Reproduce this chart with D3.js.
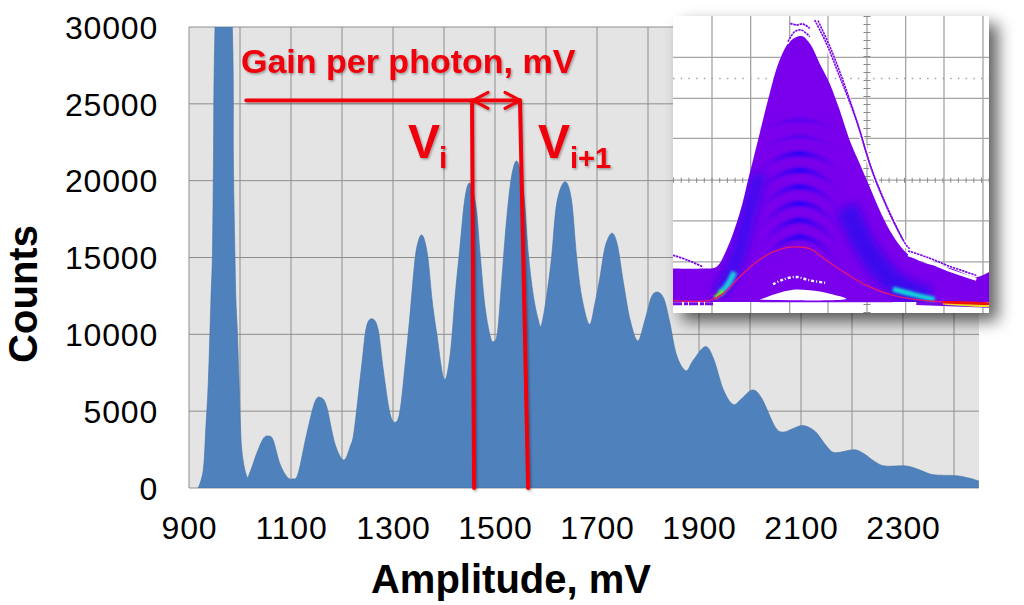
<!DOCTYPE html>
<html><head><meta charset="utf-8">
<script src="https://cdn.jsdelivr.net/npm/d3@7"></script>
<style>html,body{margin:0;background:#fff}svg{display:block}text{font-family:"Liberation Sans",Arial,sans-serif}</style>
</head><body><svg id="c" width="1024" height="605"></svg>
<script>
// ---------- main histogram ----------
const amplitude=[918,928,933,938,943,946,948,951,967,985,987,990,992,995,998,1003,1013,1020,1033,1046,1056,1065,1078,1092,1103,1114,1131,1147,1159,1170,1186,1203,1216,1224,1239,1248,1260,1271,1281,1294,1305,1314,1324,1333,1343,1350,1356,1362,1369,1377,1386,1400,1412,1422,1431,1441,1451,1463,1471,1480,1490,1497,1505,1513,1523,1533,1544,1556,1565,1575,1585,1591,1601,1611,1621,1637,1650,1660,1670,1685,1696,1706,1716,1729,1740,1752,1765,1780,1794,1807,1820,1832,1843,1856,1874,1889,1912,1928,1948,1967,1984,2005,2023,2049,2065,2085,2105,2128,2151,2167,2203,2222,2245,2265,2307,2333,2359,2405,2431,2448];
const counts=[0,1170,3900,7030,12240,15300,21350,30000,48000,30000,21350,15300,12240,10080,7030,2690,780,1060,2270,3230,3380,3120,1600,740,590,950,3550,5620,5880,5290,2900,1820,2690,3770,8110,10500,11000,10280,7680,4860,4280,5080,8110,11150,14840,16100,16470,16100,14840,12130,10000,7090,8660,12560,15600,18850,19830,18220,15160,11910,9960,9520,10170,13430,17550,20370,21240,19280,15380,12560,10930,10610,12450,15050,18530,19930,18740,15050,12450,10650,12020,13750,15700,16580,15810,13320,10930,9570,10930,12450,12740,12240,10730,8650,7630,8330,9200,8460,6380,5440,5830,6380,5830,3990,3640,3880,4060,3670,2690,2300,2490,2260,1710,1430,1430,1170,870,800,630,460];
const xTickLabels=[900,1100,1300,1500,1700,1900,2100,2300];
const xGrid=[900,1000,1100,1200,1300,1400,1500,1600,1700,1800,1900,2000,2100,2200,2300,2400];
const yTickLabels=[0,5000,10000,15000,20000,25000,30000];
const xAxisTitle="Amplitude, mV", yAxisTitle="Counts", gainLabel="Gain per photon, mV";
// annotation lines: [mV at top, mV at bottom]
const markerLeft=[1455,1459], markerRight=[1549,1565], gainBarStart=1012, gainLevel=25000;

// ---------- oscilloscope inset (positions in inset picture units) ----------
const hullUpper=[[40,805],[130,805],[170,800],[200,750],[240,640],[270,520],[300,400],[330,280],[360,180],[390,125],[425,108],[450,130],[480,190],[510,250],[540,330],[570,420],[600,490],[630,560],[660,630],[690,690],[720,735],[745,762],[800,790],[870,803],[950,830],[988,815]];
const hullLower=[[988,905],[560,905],[40,905]];
const redPulse=[[40,900],[150,900],[190,880],[240,830],[290,785],[340,755],[380,742],[415,740],[450,745],[500,780],[560,820],[620,855],[700,885],[770,898],[850,905],[988,910]];
const pulseShape=[[300,1],[330,.62],[360,.28],[390,.07],[420,0],[450,.07],[480,.28],[510,.62],[540,1]];
const bandTops=[360,410,460,510,560,610,660,710];
const outerTraceA=[[465,60],[500,130],[540,230],[590,360],[630,490],[680,615],[740,735],[750,745]];
const outerTraceB=[[475,62],[515,150],[560,270],[600,390],[640,520],[690,640],[730,720]];
const outerTop=[[385,125],[405,95],[425,90],[450,110]];
const outerTop2=[[392,70],[410,75],[430,72],[450,85]];
const leftOutlier=[[40,765],[85,780],[130,800]];
const rightOutlier=[[745,752],[800,770],[870,798],[950,825]];
const whiteHole=[[300,898],[350,880],[400,868],[450,870],[510,880],[560,895],[500,900],[400,900]];
const whiteSpecks=[[340,852],[370,838],[410,830],[450,840],[500,848]];
const leftFlank=[[175,880],[210,825],[240,750],[270,630],[300,520]];
const rightFlank=[[560,620],[600,710],[650,790],[720,858],[810,893]];
const cyanLeft=[[180,880],[203,855],[224,815]];
const cyanRight=[[700,866],[760,882],[825,897]];
const greenLeft=[[165,893],[190,872]];
const yellowRight=[[850,908],[900,912],[988,917]];
const hGrid=[172,295,415,540,662,785], vGrid=[157,273,390,505,622,738,853,970];
const dotRowY=235, tickRowY=540, tickColX=622;

const svg=d3.select("#c");
const defs=svg.append("defs");
const blur=(id,s)=>defs.append("filter").attr("id",id).attr("x","-30%").attr("y","-30%").attr("width","160%").attr("height","160%").append("feGaussianBlur").attr("stdDeviation",s);
blur("b1",.8);blur("b2",1.5);blur("b3",4.5);blur("soft",.4);
const sh=defs.append("filter").attr("id","shadow").attr("x","-10%").attr("y","-10%").attr("width","130%").attr("height","130%");
sh.append("feDropShadow").attr("dx",9).attr("dy",8).attr("stdDeviation",8).attr("flood-color","#000").attr("flood-opacity",.62);
const ts=defs.append("filter").attr("id","tshadow").attr("x","-10%").attr("y","-20%").attr("width","120%").attr("height","150%");
ts.append("feDropShadow").attr("dx",1.2).attr("dy",1.4).attr("stdDeviation",1).attr("flood-color","#000").attr("flood-opacity",.35);
defs.append("clipPath").attr("id","plotClip").append("rect").attr("x",189).attr("y",27).attr("width",790).attr("height",461);
defs.append("clipPath").attr("id","insetClip").append("rect").attr("x",673).attr("y",16).attr("width",316).attr("height",297);

const x=d3.scaleLinear().domain([900,2449]).range([189,979]);
const y=d3.scaleLinear().domain([0,30000]).range([488,27]);

svg.append("rect").attr("x",x(900)).attr("y",y(30000)).attr("width",x(2449)-x(900)).attr("height",y(0)-y(30000)).attr("fill","#e4e4e4");
svg.append("g").selectAll("line").data(xGrid).join("line").attr("x1",d=>x(d)).attr("x2",d=>x(d)).attr("y1",y(30000)).attr("y2",y(0)).attr("stroke","#8e8e8e").attr("stroke-width",1);
svg.append("g").selectAll("line").data(yTickLabels).join("line").attr("x1",x(900)).attr("x2",x(2449)).attr("y1",d=>y(d)).attr("y2",d=>y(d)).attr("stroke","#8e8e8e").attr("stroke-width",1);

const area=d3.area().x(d=>x(d[0])).y0(y(0)).y1(d=>y(d[1])).curve(d3.curveCatmullRom.alpha(0));
const pts=d3.zip(amplitude,counts);
svg.append("path").attr("clip-path","url(#plotClip)").datum(pts).attr("d",area).attr("fill","#4f81bd").attr("stroke","#44729f").attr("stroke-width",.6);

const yAxis=d3.axisLeft(y).tickValues(yTickLabels).tickSize(0).tickPadding(0).tickFormat(d3.format("d"));
const gy=svg.append("g").attr("transform","translate(158,0)").call(yAxis);
gy.select(".domain").remove();
gy.selectAll("text").attr("font-size",32).attr("letter-spacing",.8).attr("fill","#000").attr("dy","0.35em");
const xAxis=d3.axisBottom(x).tickValues(xTickLabels).tickSize(0).tickPadding(0).tickFormat(d3.format("d"));
const gx=svg.append("g").attr("transform","translate(0,528)").call(xAxis);
gx.select(".domain").remove();
gx.selectAll("text").attr("font-size",32).attr("letter-spacing",.8).attr("fill","#000").attr("y",0).attr("dy","0.35em");

svg.append("text").attr("x",511).attr("y",593).attr("text-anchor","middle").attr("font-size",40).attr("font-weight","bold").text(xAxisTitle);
svg.append("text").attr("transform","translate(37,294) rotate(-90)").attr("text-anchor","middle").attr("font-size",40).attr("font-weight","bold").text(yAxisTitle);

// ---------- inset ----------
const ix=d3.scaleLinear().domain([40,988]).range([673,989]);
const iy=d3.scaleLinear().domain([48,938]).range([16,313]);
const iline=d3.line().x(d=>ix(d[0])).y(d=>iy(d[1])).curve(d3.curveCatmullRom);
const ilineStraight=d3.line().x(d=>ix(d[0])).y(d=>iy(d[1]));
const hullPath=iline(hullUpper)+"L"+hullLower.map(d=>ix(d[0])+","+iy(d[1])).join("L")+"Z";
defs.append("clipPath").attr("id","hullClip").append("path").attr("d",hullPath);
const bandGrad=defs.append("linearGradient").attr("id","band").attr("gradientUnits","userSpaceOnUse").attr("x1",ix(270)).attr("x2",ix(570)).attr("y1",0).attr("y2",0);
[[0,"#7a06ec",0],[.3,"#4a06f0",.75],[.5,"#2606f8",1],[.7,"#4a06f0",.75],[1,"#7a06ec",0]].forEach(s=>bandGrad.append("stop").attr("offset",s[0]).attr("stop-color",s[1]).attr("stop-opacity",s[2]));
svg.append("rect").attr("x",673).attr("y",16).attr("width",316).attr("height",297).attr("fill","#fff").attr("filter","url(#shadow)");
const ins=svg.append("g").attr("clip-path","url(#insetClip)");
const grey="#a4a4a4";
ins.selectAll(".v").data(vGrid).join("line").attr("class","v").attr("x1",d=>ix(d)).attr("x2",d=>ix(d)).attr("y1",16).attr("y2",313).attr("stroke",grey).attr("stroke-width",1.3);
ins.selectAll(".h").data(hGrid).join("line").attr("class","h").attr("y1",d=>iy(d)).attr("y2",d=>iy(d)).attr("x1",673).attr("x2",989).attr("stroke",grey).attr("stroke-width",1.3);
ins.append("line").attr("x1",673).attr("x2",989).attr("y1",iy(dotRowY)).attr("y2",iy(dotRowY)).attr("stroke",grey).attr("stroke-width",1.5).attr("stroke-dasharray","1.5 6.2");
ins.append("line").attr("x1",673).attr("x2",989).attr("y1",iy(tickRowY)).attr("y2",iy(tickRowY)).attr("stroke","#888").attr("stroke-width",5).attr("stroke-dasharray","1 6.7");
ins.append("line").attr("x1",ix(tickColX)).attr("x2",ix(tickColX)).attr("y1",16).attr("y2",313).attr("stroke","#888").attr("stroke-width",7).attr("stroke-dasharray","1 7");

const purple="#7a06ec";
const outerStyle=(data,w)=>ins.append("path").attr("d",iline(data)).attr("fill","none").attr("stroke",purple).attr("stroke-width",w).attr("stroke-dasharray","2.4 .8");
// hull
ins.append("path").attr("d",hullPath).attr("fill",purple).attr("filter","url(#soft)");
// noisy floor at both ends of the trace
ins.append("line").attr("x1",ix(40)).attr("x2",ix(160)).attr("y1",iy(910)).attr("y2",iy(910)).attr("stroke",purple).attr("stroke-width",3).attr("stroke-dasharray","9 2 4 1");
ins.append("line").attr("x1",ix(770)).attr("x2",ix(988)).attr("y1",iy(908)).attr("y2",iy(916)).attr("stroke",purple).attr("stroke-width",4);
// flanks, kept inside the hull
const flankG=ins.append("g").attr("clip-path","url(#hullClip)");
flankG.append("path").attr("d",iline(leftFlank)).attr("fill","none").attr("stroke","#2a10f0").attr("stroke-width",15).attr("filter","url(#b3)").attr("opacity",.7);
flankG.append("path").attr("d",iline(rightFlank)).attr("fill","none").attr("stroke","#2410ee").attr("stroke-width",22).attr("filter","url(#b3)").attr("opacity",.7);
// persistence bands
const bandG=ins.append("g").attr("filter","url(#b2)");
bandTops.forEach((t,i)=>{
  const k=28+i*8, pts=pulseShape.map(d=>[420+(d[0]-420)*(1+i*.12),t+d[1]*k*(1+i*.3)]);
  bandG.append("path").attr("d",iline(pts)).attr("fill","none").attr("stroke","url(#band)").attr("stroke-width",i<2?3:5).attr("opacity",i<2?.6:1);
});
ins.append("path").attr("d",iline(cyanLeft)).attr("fill","none").attr("stroke","#12d0e0").attr("stroke-width",6).attr("filter","url(#b2)");
ins.append("path").attr("d",iline(cyanRight)).attr("fill","none").attr("stroke","#10e0d8").attr("stroke-width",5).attr("filter","url(#b2)");
ins.append("path").attr("d",ilineStraight(greenLeft)).attr("stroke","#70e820").attr("stroke-width",4).attr("filter","url(#b1)");
// white holes and specks
ins.append("path").attr("d",iline(whiteHole)+"Z").attr("fill","#fff");
ins.append("path").attr("d",iline(whiteSpecks)).attr("fill","none").attr("stroke","#fff").attr("stroke-width",2.4).attr("stroke-dasharray","3 2 1 2");
ins.append("line").attr("x1",ix(300)).attr("x2",ix(700)).attr("y1",iy(904)).attr("y2",iy(904)).attr("stroke",purple).attr("stroke-width",1.2);
// outer traces with white gap on the falling edge
ins.append("path").attr("d",iline(outerTraceA)).attr("fill","none").attr("stroke","#fff").attr("stroke-width",5);
outerStyle(outerTraceA,1.6);outerStyle(outerTraceB,1.6);
ins.append("path").attr("d",iline(outerTop.map(d=>[d[0],d[1]+6]))).attr("fill","none").attr("stroke","#fff").attr("stroke-width",1.5);
outerStyle(outerTop,1.6);outerStyle(outerTop2,1.8);
ins.append("path").attr("d",iline(rightOutlier.map(d=>[d[0],d[1]+12]))).attr("fill","none").attr("stroke","#fff").attr("stroke-width",3);
outerStyle(rightOutlier,1.6);outerStyle(leftOutlier,1.8);
// average pulse
ins.append("path").attr("d",iline(redPulse)).attr("fill","none").attr("stroke","#e8186e").attr("stroke-width",1.3);
ins.append("path").attr("d",ilineStraight(redPulse.slice(0,2))).attr("stroke","#f01010").attr("stroke-width",3).attr("filter","url(#soft)");
ins.append("path").attr("d",iline(yellowRight)).attr("fill","none").attr("stroke","#e8e020").attr("stroke-width",3).attr("filter","url(#soft)");
ins.append("path").attr("d",ilineStraight(redPulse.slice(-2))).attr("stroke","#f01010").attr("stroke-width",3).attr("filter","url(#soft)");

// ---------- annotations ----------
const ann=svg.append("g").attr("filter","url(#tshadow)");
const red="#f00008";
const seg=(a,b,c,d,w)=>ann.append("line").attr("x1",a).attr("y1",b).attr("x2",c).attr("y2",d).attr("stroke",red).attr("stroke-width",w).attr("stroke-linecap","round");
const yG=y(gainLevel)-3.5;
seg(x(gainBarStart),yG,x(markerRight[0]),yG,3.6);
seg(x(markerLeft[0]),yG,x(markerLeft[1]),y(0),4);
seg(x(markerRight[0]),yG,x(markerRight[1]),y(0),4);
const xa=x(markerLeft[0])+1, xb=x(markerRight[0]);
seg(xa,yG,xa+15,yG-8,3);seg(xa,yG,xa+15,yG+8,3);
seg(xb,yG,xb-15,yG-8,3);seg(xb,yG,xb-15,yG+8,3);
ann.append("text").attr("x",241).attr("y",73).attr("font-size",34).attr("font-weight","bold").attr("fill",red).text(gainLabel);
ann.append("text").attr("x",408).attr("y",158).attr("font-size",48).attr("font-weight","bold").attr("fill",red).text("V");
ann.append("text").attr("x",439).attr("y",168).attr("font-size",30).attr("font-weight","bold").attr("fill",red).text("i");
ann.append("text").attr("x",538).attr("y",158).attr("font-size",48).attr("font-weight","bold").attr("fill",red).text("V");
ann.append("text").attr("x",570).attr("y",168).attr("font-size",29).attr("font-weight","bold").attr("fill",red).text("i+1");
</script></body></html>
